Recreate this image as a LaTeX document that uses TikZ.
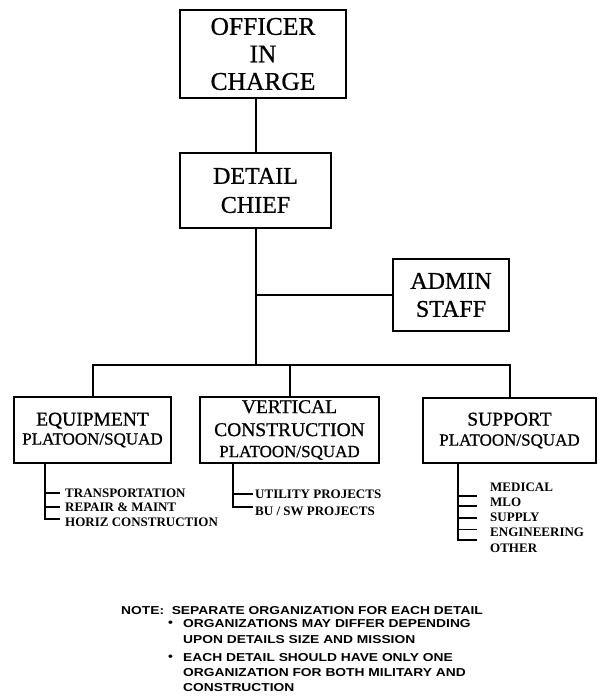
\documentclass[tikz,border=0pt]{standalone}
\usepackage{fontspec}
\setmainfont{Liberation Serif}
\newfontfamily\boxfont[FakeBold=0.8]{Liberation Serif}
\newfontfamily\notefont[FakeStretch=1.2]{Liberation Sans}
\begin{document}
\begin{tikzpicture}[x=1pt,y=-1pt,
  box/.style={draw, line width=2pt, inner sep=0pt, align=center},
  conn/.style={line width=2pt},
  sub/.style={line width=1.4pt},
  item/.style={anchor=west, inner sep=0pt, font=\bfseries\fontsize{13}{14}\selectfont},
  noteline/.style={anchor=west, inner sep=0pt, font=\notefont\bfseries\fontsize{11.5}{13}\selectfont}]
\useasboundingbox (0,0) rectangle (598,696);

% boxes
\node[box, minimum width=166pt, minimum height=88pt, font=\boxfont\fontsize{25.5}{27.5}\selectfont] (oic) at (263,54) {OFFICER\\IN\\CHARGE};
\node[box, minimum width=151pt, minimum height=75pt, font=\boxfont\fontsize{24}{29}\selectfont] (dc) at (255.5,190.5) {DETAIL\\CHIEF};
\node[box, minimum width=116pt, minimum height=72pt, font=\boxfont\fontsize{24}{28}\selectfont] (admin) at (451,295) {ADMIN\\STAFF};
\node[box, minimum width=157pt, minimum height=66pt, font=\boxfont\fontsize{19.5}{19}\selectfont] (equip) at (92.5,430) {EQUIPMENT\\{\fontsize{17}{19}\selectfont PLATOON/SQUAD}};
\node[box, minimum width=179pt, minimum height=66pt, font=\boxfont\fontsize{19.5}{23}\selectfont] (vert) at (289.5,430) {VERTICAL\\CONSTRUCTION\\[-2pt]{\fontsize{17}{19}\selectfont PLATOON/SQUAD}};
\node[box, minimum width=173pt, minimum height=65pt, font=\boxfont\fontsize{19.5}{20}\selectfont] (supp) at (509.5,430.5) {SUPPORT\\{\fontsize{17}{19}\selectfont PLATOON/SQUAD}};

% main connectors
\coordinate (bus) at (255.5,365);
\draw[conn] (dc.north) -- (dc.north |- oic.south);
\draw[conn] (dc.south) -- (bus);
\draw[conn] (dc.south |- admin.west) -- (admin.west);
\draw[conn] (equip.north) -- (equip.north |- bus) -- (supp.north |- bus) -- (supp.north);
\draw[conn] (vert.north) -- (vert.north |- bus);

% equipment sub-items
\node[item] (e1) at (65,493) {TRANSPORTATION};
\node[item] (e2) at (65,507) {REPAIR \& MAINT};
\node[item] (e3) at (65,522) {HORIZ CONSTRUCTION};
\coordinate (eL) at (45,463);
\coordinate (eB) at (45,519);
\draw[sub] (eL) -- (eB) -- (60,519);
\draw[sub] (45,493) -- (60,493);
\draw[sub] (45,507) -- (60,507);

% vertical sub-items
\node[item] (v1) at (255,494) {UTILITY PROJECTS};
\node[item] (v2) at (255,511) {BU / SW PROJECTS};
\coordinate (vL) at (233,463);
\coordinate (vB) at (233,507);
\draw[sub] (vL) -- (vB) -- (253,507);
\draw[sub] (233,494) -- (253,494);

% support sub-items
\node[item] (s1) at (490,487) {MEDICAL};
\node[item] (s2) at (490,502) {MLO};
\node[item] (s3) at (490,517) {SUPPLY};
\node[item] (s4) at (490,532.5) {ENGINEERING};
\node[item] (s5) at (490,548) {OTHER};
\coordinate (sL) at (458,463);
\coordinate (sB) at (458,540);
\draw[sub] (sL) -- (sB) -- (477,540);
\foreach \yy in {496,506,518,529.5}{\draw[sub] (458,\yy) -- (477,\yy);}

% note
\node[noteline] (n1) at (121,611) {NOTE:\ \ SEPARATE ORGANIZATION FOR EACH DETAIL};
\node[noteline] (b1) at (168,624) {•};
\node[noteline] (n2) at (183,624) {ORGANIZATIONS MAY DIFFER DEPENDING};
\node[noteline] (n3) at (183,640) {UPON DETAILS SIZE AND MISSION};
\node[noteline] (b2) at (168,657.5) {•};
\node[noteline] (n4) at (183,657.5) {EACH DETAIL SHOULD HAVE ONLY ONE};
\node[noteline] (n5) at (183,673) {ORGANIZATION FOR BOTH MILITARY AND};
\node[noteline] (n6) at (183,688) {CONSTRUCTION};
\end{tikzpicture}
\end{document}
